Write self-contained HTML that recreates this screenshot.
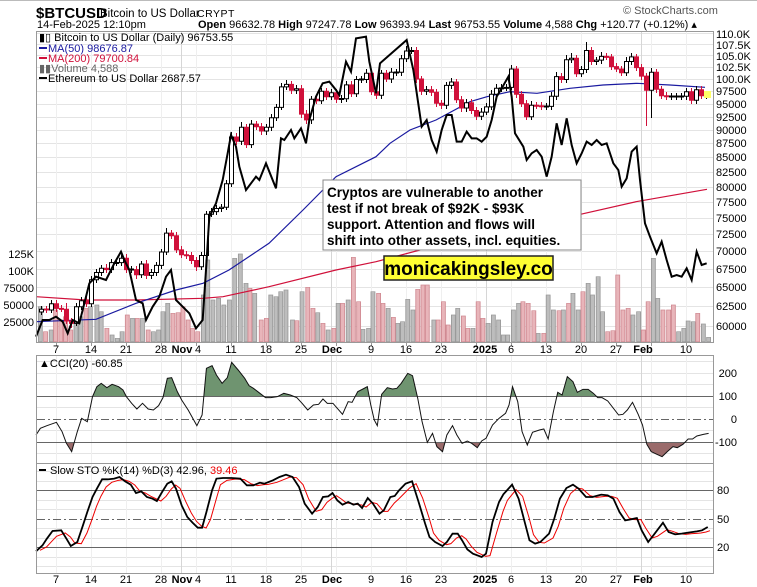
<!DOCTYPE html>
<html><head><meta charset="utf-8"><style>
html,body{margin:0;padding:0;background:#fff;}
svg{display:block;font-family:"Liberation Sans",sans-serif;}
</style></head><body>
<svg width="757" height="587" viewBox="0 0 757 587" xmlns="http://www.w3.org/2000/svg">
<defs>
<clipPath id="cu"><rect x="0" y="0" width="1600" height="125"/></clipPath>
<clipPath id="cd"><rect x="0" y="262" width="1600" height="80"/></clipPath>
</defs>
<rect width="757" height="587" fill="#fff"/>
<line x1="0" y1="0.5" x2="757" y2="0.5" stroke="#bbb"/>
<!-- header -->
<text x="36" y="18" font-size="15" font-weight="bold">$BTCUSD</text>
<text x="100" y="17" font-size="11.5">Bitcoin to US Dollar</text>
<text x="197" y="17" font-size="10.5" letter-spacing="0.5">CRYPT</text>
<text x="623" y="14" font-size="11" fill="#555">© StockCharts.com</text>
<text x="37" y="28" font-size="11">14-Feb-2025 12:10pm</text>
<text x="198" y="28" font-size="11"><tspan font-weight="bold">Open</tspan> 96632.78 <tspan font-weight="bold">High</tspan> 97247.78 <tspan font-weight="bold">Low</tspan> 96393.94 <tspan font-weight="bold">Last</tspan> 96753.55 <tspan font-weight="bold">Volume</tspan> 4,588 <tspan font-weight="bold">Chg</tspan> +120.77 (+0.12%) ▴</text>

<!-- horizontal price grid -->
<g stroke="#e4e4e4">
<path d="M37,33.5H713M37,44.5H713M37,55.5H713M37,67.5H713M37,79.5H713M37,91.5H713M37,104.5H713M37,117.5H713M37,130.5H713M37,143.5H713M37,157.5H713M37,172.5H713M37,187.5H713M37,202.5H713M37,218.5H713M37,234.5H713M37,251.5H713M37,269.5H713M37,287.5H713M37,306.5H713M37,326.5H713"/>
<path d="M37,361.5H713M37,373.5H713M37,384.5H713M37,407.5H713M37,430.5H713M37,453.5H713M37,471.5H713M37,481.5H713M37,500.5H713M37,509.5H713M37,528.5H713M37,538.5H713M37,557.5H713M37,566.5H713"/>
</g>
<!-- vertical grid -->
<g stroke="#efefef">
<path d="M56.5,32V342M91.5,32V342M126.5,32V342M161.5,32V342M196.5,32V342M231.5,32V342M266.5,32V342M301.5,32V342M336.5,32V342M371.5,32V342M406.5,32V342M441.5,32V342M476.5,32V342M511.5,32V342M546.5,32V342M581.5,32V342M616.5,32V342M651.5,32V342M686.5,32V342"/>
<path d="M56.5,356V573M91.5,356V573M126.5,356V573M161.5,356V573M196.5,356V573M231.5,356V573M266.5,356V573M301.5,356V573M336.5,356V573M371.5,356V573M406.5,356V573M441.5,356V573M476.5,356V573M511.5,356V573M546.5,356V573M581.5,356V573M616.5,356V573M651.5,356V573M686.5,356V573"/>
</g>
<g stroke="#d6d6d6">
<path d="M181.5,32V342M331.5,32V342M486.5,32V342M641.5,32V342M181.5,356V573M331.5,356V573M486.5,356V573M641.5,356V573"/>
</g>
<g stroke="#999">
<path d="M56.5,342V346M91.5,342V346M126.5,342V346M161.5,342V346M196.5,342V346M231.5,342V346M266.5,342V346M301.5,342V346M336.5,342V346M371.5,342V346M406.5,342V346M441.5,342V346M476.5,342V346M511.5,342V346M546.5,342V346M581.5,342V346M616.5,342V346M651.5,342V346M686.5,342V346"/>
</g>

<!-- volume -->
<g transform="translate(36,240) scale(0.43478,0.33333)" stroke-width="2">
<path fill="#bdbdbd" stroke="#9a9a9a" d="M5.5,200h9V305h-9ZM30.5,270h9V305h-9ZM87.5,250h9V305h-9ZM98.5,230h9V305h-9ZM120.5,200h9V305h-9ZM135.5,195h9V305h-9ZM145.5,215h9V305h-9ZM170.5,285h9V305h-9ZM182.5,295h9V305h-9ZM193.5,275h9V305h-9ZM217.5,235h9V305h-9ZM240.5,235h9V305h-9ZM265.5,275h9V305h-9ZM277.5,270h9V305h-9ZM287.5,215h9V305h-9ZM298.5,190h9V305h-9ZM380.5,165h9V305h-9ZM390.5,60h9V305h-9ZM402.5,180h9V305h-9ZM415.5,175h9V305h-9ZM427.5,195h9V305h-9ZM440.5,180h9V305h-9ZM452.5,55h9V305h-9ZM465.5,42h9V305h-9ZM478.5,130h9V305h-9ZM498.5,160h9V305h-9ZM535.5,165h9V305h-9ZM547.5,170h9V305h-9ZM558.5,155h9V305h-9ZM570.5,150h9V305h-9ZM585.5,240h9V305h-9ZM607.5,155h9V305h-9ZM643.5,218h9V305h-9ZM667.5,270h9V305h-9ZM690.5,190h9V305h-9ZM713.5,180h9V305h-9ZM747.5,268h9V305h-9ZM760.5,265h9V305h-9ZM770.5,155h9V305h-9ZM805.5,205h9V305h-9ZM827.5,250h9V305h-9ZM838.5,245h9V305h-9ZM850.5,178h9V305h-9ZM862.5,210h9V305h-9ZM910.5,240h9V305h-9ZM955.5,225h9V305h-9ZM965.5,205h9V305h-9ZM1000.5,265h9V305h-9ZM1035.5,250h9V305h-9ZM1047.5,225h9V305h-9ZM1059.5,240h9V305h-9ZM1070.5,285h9V305h-9ZM1080.5,285h9V305h-9ZM1093.5,210h9V305h-9ZM1105.5,190h9V305h-9ZM1150.5,280h9V305h-9ZM1173.5,165h9V305h-9ZM1185.5,210h9V305h-9ZM1208.5,210h9V305h-9ZM1230.5,160h9V305h-9ZM1242.5,210h9V305h-9ZM1265.5,130h9V305h-9ZM1275.5,165h9V305h-9ZM1288.5,110h9V305h-9ZM1298.5,215h9V305h-9ZM1368.5,225h9V305h-9ZM1381.5,215h9V305h-9ZM1415.5,55h9V305h-9ZM1425.5,175h9V305h-9ZM1473.5,275h9V305h-9ZM1485.5,265h9V305h-9ZM1495.5,243h9V305h-9ZM1507.5,245h9V305h-9ZM1530.5,252h9V305h-9ZM1542.5,292h9V305h-9Z"/>
<path fill="#e8b5ba" stroke="#d08a92" d="M17.5,275h9V305h-9ZM40.5,210h9V305h-9ZM52.5,240h9V305h-9ZM63.5,230h9V305h-9ZM75.5,270h9V305h-9ZM110.5,205h9V305h-9ZM158.5,265h9V305h-9ZM205.5,225h9V305h-9ZM228.5,235h9V305h-9ZM253.5,270h9V305h-9ZM310.5,220h9V305h-9ZM322.5,218h9V305h-9ZM333.5,200h9V305h-9ZM345.5,240h9V305h-9ZM355.5,265h9V305h-9ZM367.5,275h9V305h-9ZM487.5,145h9V305h-9ZM513.5,240h9V305h-9ZM525.5,235h9V305h-9ZM595.5,242h9V305h-9ZM620.5,142h9V305h-9ZM632.5,205h9V305h-9ZM655.5,250h9V305h-9ZM680.5,265h9V305h-9ZM700.5,190h9V305h-9ZM725.5,52h9V305h-9ZM737.5,185h9V305h-9ZM783.5,160h9V305h-9ZM793.5,190h9V305h-9ZM817.5,232h9V305h-9ZM873.5,148h9V305h-9ZM885.5,135h9V305h-9ZM895.5,135h9V305h-9ZM920.5,240h9V305h-9ZM932.5,185h9V305h-9ZM943.5,255h9V305h-9ZM978.5,228h9V305h-9ZM988.5,265h9V305h-9ZM1012.5,185h9V305h-9ZM1023.5,235h9V305h-9ZM1115.5,185h9V305h-9ZM1127.5,190h9V305h-9ZM1140.5,212h9V305h-9ZM1163.5,280h9V305h-9ZM1198.5,212h9V305h-9ZM1220.5,190h9V305h-9ZM1253.5,155h9V305h-9ZM1310.5,275h9V305h-9ZM1322.5,272h9V305h-9ZM1333.5,105h9V305h-9ZM1345.5,210h9V305h-9ZM1357.5,205h9V305h-9ZM1392.5,270h9V305h-9ZM1403.5,185h9V305h-9ZM1437.5,210h9V305h-9ZM1450.5,210h9V305h-9ZM1461.5,195h9V305h-9ZM1517.5,220h9V305h-9Z"/>
</g>

<!-- moving averages -->
<polyline fill="none" stroke="#d0103a" stroke-width="1.2" points="36,296.7 86,300 136,300 203,298.3 223,296.7 269,286.7 336,270 376,261.7 420,250 570,216.7 636,201.7 707,189.3"/>
<polyline fill="none" stroke="#1a1aa0" stroke-width="1.2" points="36,321.7 96,319.3 136,303.3 176,290 203,283.3 229,270 269,243.3 303,210 336,176.7 376,156.7 390,143.3 410,130 436,120 470,101.7 487,96.7 510,91.7 537,93.3 570,88.3 603,85 637,83.3 670,85 705,87.3"/>

<!-- candles: up (hollow) -->
<path fill="none" stroke="#000" d="M41.5,306V315M51.5,300V313M76.5,303V326M81.5,297V310M91.5,276V307M96.5,269V283M101.5,265V276M111.5,259V273M116.5,259V266M121.5,255V266M131.5,266V273M141.5,261V278M151.5,269V279M156.5,262V276M161.5,249V269M166.5,228V255M201.5,252V270M206.5,211V259M211.5,208V217M216.5,205V215M221.5,204V212M226.5,180V210M231.5,132V187M241.5,122V145M251.5,120V148M266.5,124V135M271.5,114V131M276.5,104V121M281.5,83V110M286.5,80V90M296.5,85V94M311.5,96V124M321.5,88V104M331.5,89V100M341.5,95V103M346.5,81V102M356.5,76V97M361.5,76V83M366.5,69V83M381.5,70V99M391.5,68V83M396.5,69V76M401.5,55V76M406.5,46V62M411.5,47V54M426.5,86V95M446.5,82V109M451.5,78V89M466.5,99V112M481.5,108V120M486.5,103V115M491.5,90V110M496.5,84V98M501.5,84V92M506.5,84V91M511.5,65V90M531.5,101V120M546.5,103V110M551.5,92V110M556.5,72V100M566.5,55V83M571.5,53V63M581.5,66V77M586.5,42V73M596.5,57V65M601.5,52V64M626.5,57V76M631.5,53V65M651.5,68V118M671.5,93V100M676.5,93V100M681.5,93V100M686.5,88V100M696.5,86V104M706.5,91V99"/>
<path fill="#fff" stroke="#000" d="M39.5,309.2h4V312h-4ZM49.5,303.7h4V310h-4ZM74.5,306.8h4V323.4h-4ZM79.5,300.7h4V306.8h-4ZM89.5,279.8h4V303.7h-4ZM94.5,272.5h4V279.8h-4ZM99.5,268.2h4V272.5h-4ZM109.5,262.6h4V269.6h-4ZM114.5,262.5h4V263.5h-4ZM119.5,258.3h4V262.6h-4ZM129.5,269h4V270h-4ZM139.5,264h4V274.7h-4ZM149.5,272.5h4V275.4h-4ZM154.5,265.4h4V272.5h-4ZM159.5,252h4V265.4h-4ZM164.5,233.1h4V252h-4ZM199.5,255.5h4V266.8h-4ZM204.5,214.2h4V255.5h-4ZM209.5,211.6h4V214.2h-4ZM214.5,208.5h4V211.6h-4ZM219.5,207.2h4V208.5h-4ZM224.5,183.8h4V207.2h-4ZM229.5,137h4V183.8h-4ZM239.5,127.3h4V141.3h-4ZM249.5,124.1h4V144.6h-4ZM264.5,127.3h4V131h-4ZM269.5,117.8h4V127.3h-4ZM274.5,107.4h4V117.8h-4ZM279.5,86.9h4V107.4h-4ZM284.5,84.4h4V86.9h-4ZM294.5,88.8h4V90.3h-4ZM309.5,99.3h4V119.9h-4ZM319.5,91.3h4V100.8h-4ZM329.5,92.8h4V96.8h-4ZM339.5,98.5h4V99.5h-4ZM344.5,84.9h4V98.8h-4ZM354.5,79.5h4V93.8h-4ZM359.5,79h4V80h-4ZM364.5,73.3h4V79.5h-4ZM379.5,73.3h4V95.3h-4ZM389.5,72.3h4V79h-4ZM394.5,72h4V73h-4ZM399.5,58.7h4V72.3h-4ZM404.5,51h4V58.7h-4ZM409.5,50.5h4V51.5h-4ZM424.5,89.8h4V91.3h-4ZM444.5,85.4h4V105.3h-4ZM449.5,82h4V85.4h-4ZM464.5,102.8h4V108h-4ZM479.5,112.1h4V116.2h-4ZM484.5,106.9h4V112.1h-4ZM489.5,94.3h4V106.9h-4ZM494.5,88.3h4V94.3h-4ZM499.5,87.9h4V88.9h-4ZM504.5,87.4h4V88.4h-4ZM509.5,69h4V87.4h-4ZM529.5,105.3h4V116.7h-4ZM544.5,106h4V107h-4ZM549.5,96.3h4V106.4h-4ZM554.5,76.6h4V96.3h-4ZM564.5,59.7h4V79.5h-4ZM569.5,58.3h4V59.7h-4ZM579.5,69.5h4V73.8h-4ZM584.5,50.5h4V69.5h-4ZM594.5,60.1h4V61.5h-4ZM599.5,56.4h4V60.1h-4ZM624.5,61.5h4V72.8h-4ZM629.5,56.9h4V61.5h-4ZM649.5,72.3h4V90.3h-4ZM669.5,96h4V97h-4ZM674.5,96h4V97h-4ZM679.5,96h4V97h-4ZM684.5,91.8h4V96.3h-4ZM694.5,89.8h4V100.3h-4ZM704.5,95h4V96h-4Z"/>
<!-- candles: down (red) -->
<path fill="none" stroke="#d0103a" d="M46.5,306V313M56.5,300V312M61.5,305V312M66.5,303V324M71.5,318V328M86.5,297V307M106.5,264V273M126.5,254V273M136.5,266V279M146.5,260V279M171.5,230V239M176.5,232V253M181.5,246V258M186.5,251V259M191.5,252V264M196.5,257V271M236.5,133V145M246.5,124V148M256.5,121V130M261.5,123V135M291.5,81V94M301.5,85V118M306.5,110V124M316.5,96V104M326.5,88V100M336.5,89V103M351.5,81V97M371.5,70V95M376.5,88V99M386.5,70V82M416.5,47V83M421.5,76V95M431.5,86V96M436.5,89V107M441.5,100V109M456.5,79V103M461.5,96V112M471.5,99V114M476.5,107V120M516.5,66V98M521.5,91V107M526.5,100V120M536.5,102V109M541.5,102V110M561.5,73V83M576.5,55V77M591.5,47V65M606.5,53V60M611.5,54V70M616.5,63V72M621.5,66V76M636.5,54V71M641.5,64V80M646.5,73V126M656.5,69V93M661.5,86V99M666.5,92V100M691.5,88V104M701.5,86V99"/>
<path fill="#d0103a" stroke="#d0103a" d="M44.5,309h4V310h-4ZM54.5,303.7h4V308.4h-4ZM59.5,308.4h4V309.4h-4ZM64.5,309.2h4V321h-4ZM69.5,321h4V323.4h-4ZM84.5,300.7h4V303.7h-4ZM104.5,268.2h4V269.6h-4ZM124.5,258.3h4V269.6h-4ZM134.5,269.6h4V274.7h-4ZM144.5,264h4V275.4h-4ZM169.5,233.1h4V235.8h-4ZM174.5,235.8h4V249.9h-4ZM179.5,249.9h4V254.8h-4ZM184.5,254.8h4V255.8h-4ZM189.5,255.5h4V260.5h-4ZM194.5,260.5h4V266.8h-4ZM234.5,137h4V141.3h-4ZM244.5,127.3h4V144.6h-4ZM254.5,124.1h4V126.7h-4ZM259.5,126.7h4V131h-4ZM289.5,84.4h4V90.3h-4ZM299.5,88.8h4V114.1h-4ZM304.5,114.1h4V119.9h-4ZM314.5,99.3h4V100.8h-4ZM324.5,91.3h4V96.8h-4ZM334.5,92.8h4V99.3h-4ZM349.5,84.9h4V93.8h-4ZM369.5,73.3h4V91.8h-4ZM374.5,91.8h4V95.3h-4ZM384.5,73.3h4V79h-4ZM414.5,50.5h4V79h-4ZM419.5,79h4V91.3h-4ZM429.5,89.8h4V92.3h-4ZM434.5,92.3h4V103.3h-4ZM439.5,103.3h4V105.3h-4ZM454.5,82h4V99.8h-4ZM459.5,99.8h4V108h-4ZM469.5,102.8h4V110.5h-4ZM474.5,110.5h4V116.2h-4ZM514.5,69h4V94.3h-4ZM519.5,94.3h4V103.8h-4ZM524.5,103.8h4V116.7h-4ZM534.5,105.3h4V106.3h-4ZM539.5,105.8h4V106.8h-4ZM559.5,76.6h4V79.5h-4ZM574.5,58.3h4V73.8h-4ZM589.5,50.5h4V61.5h-4ZM604.5,56.4h4V57.4h-4ZM609.5,56.9h4V66.6h-4ZM614.5,66.6h4V69h-4ZM619.5,69h4V72.8h-4ZM634.5,56.9h4V67.6h-4ZM639.5,67.6h4V76.1h-4ZM644.5,76.1h4V90.3h-4ZM654.5,72.3h4V89.3h-4ZM659.5,89.3h4V95.8h-4ZM664.5,95.8h4V96.8h-4ZM689.5,91.8h4V100.3h-4ZM699.5,89.8h4V95.8h-4Z"/>
<rect x="704" y="91" width="7" height="7" fill="#ffff66"/>

<!-- ETH line -->
<g transform="translate(36,30) scale(0.33333)">
<polyline fill="none" stroke="#000" stroke-width="2" vector-effect="non-scaling-stroke" points="0,920 20,870 40,870 60,860 80,875 95,910 110,870 130,880 160,760 180,740 210,750 235,700 255,665 265,690 280,720 300,810 320,820 330,870 350,830 370,800 390,740 405,720 420,810 445,835 460,850 480,895 500,870 510,720 520,560 540,520 560,450 575,370 585,315 600,350 610,410 630,480 660,440 670,450 690,400 720,475 735,325 745,330 765,300 775,325 795,295 810,340 820,270 840,200 860,160 880,155 900,180 910,195 930,95 945,125 960,25 990,20 1000,95 1020,190"/>
</g>
<g transform="translate(370,30) scale(0.33333)">
<polyline fill="none" stroke="#000" stroke-width="2" vector-effect="non-scaling-stroke" points="18,190 30,100 110,30 130,120 155,290 170,270 185,330 200,365 215,300 230,255 245,255 260,335 275,335 290,305 305,325 320,325 335,335 350,320 365,270 380,200 395,175 415,140 425,200 435,310 460,350 470,390 485,370 500,360 515,380 530,440 545,380 560,280 575,345 590,265 605,345 620,400 635,370 650,335 665,345 680,330 695,345 710,340 730,400 745,420 755,470 770,445 785,365 800,350 810,450 825,580 840,620 860,670 875,635 890,690 905,740 920,735 935,740 950,715 965,750 980,665 995,705 1010,700"/>
</g>

<!-- legend -->
<g font-size="11">
<text x="39" y="41">▮▯ Bitcoin to US Dollar (Daily) 96753.55</text>
<line x1="39" y1="48" x2="47" y2="48" stroke="#1a1aa0" stroke-width="2"/><text x="48" y="52" fill="#1a1aa0">MA(50) 98676.87</text>
<line x1="39" y1="58" x2="47" y2="58" stroke="#d0103a" stroke-width="2"/><text x="48" y="62" fill="#d0103a">MA(200) 79700.84</text>
<text x="39" y="72" fill="#666">▮▮Volume 4,588</text>
<line x1="39" y1="78" x2="47" y2="78" stroke="#000" stroke-width="2"/><text x="48" y="82">Ethereum to US Dollar 2687.57</text>
</g>
<!-- annotation -->
<rect x="323" y="180" width="258" height="70" fill="#fff" stroke="#888"/>
<g font-size="13.5" font-weight="bold">
<text x="327" y="197">Cryptos are vulnerable to another</text>
<text x="327" y="213">test if not break of $92K - $93K</text>
<text x="327" y="229">support. Attention and flows will</text>
<text x="327" y="245">shift into other assets, incl. equities.</text>
</g>
<rect x="384" y="256" width="169" height="24" fill="#ffff33" stroke="#222" stroke-width="1.5"/>
<text x="468.5" y="275" font-size="19" font-weight="bold" text-anchor="middle">monicakingsley.co</text>
<!-- price labels -->
<g font-size="11">
<text x="716" y="38">110.0K</text><text x="716" y="49">107.5K</text><text x="716" y="60">105.0K</text><text x="716" y="71">102.5K</text><text x="716" y="83">100.0K</text>
<text x="716" y="95">97500</text><text x="716" y="108">95000</text><text x="716" y="121">92500</text><text x="716" y="134">90000</text><text x="716" y="147">87500</text><text x="716" y="161">85000</text><text x="716" y="176">82500</text><text x="716" y="191">80000</text><text x="716" y="206">77500</text><text x="716" y="222">75000</text><text x="716" y="238">72500</text><text x="716" y="255">70000</text><text x="716" y="273">67500</text><text x="716" y="291">65000</text><text x="716" y="310">62500</text><text x="716" y="330">60000</text>
</g>
<g font-size="11" text-anchor="end">
<text x="34" y="258">125K</text><text x="34" y="275">100K</text><text x="34" y="292">75000</text><text x="34" y="309">50000</text><text x="34" y="326">25000</text>
</g>
<!-- date labels -->
<g font-size="11" text-anchor="middle">
<text x="56" y="353">7</text><text x="91" y="353">14</text><text x="126" y="353">21</text><text x="161" y="353">28</text><text x="182" y="353" font-weight="bold">Nov</text><text x="198" y="353">4</text><text x="231" y="353">11</text><text x="266" y="353">18</text><text x="301" y="353">25</text><text x="332" y="353" font-weight="bold">Dec</text><text x="371" y="353">9</text><text x="406" y="353">16</text><text x="441" y="353">23</text><text x="485" y="353" font-weight="bold">2025</text><text x="511" y="353">6</text><text x="546" y="353">13</text><text x="581" y="353">20</text><text x="616" y="353">27</text><text x="643" y="353" font-weight="bold">Feb</text><text x="686" y="353">10</text>
<text x="56" y="583">7</text><text x="91" y="583">14</text><text x="126" y="583">21</text><text x="161" y="583">28</text><text x="182" y="583" font-weight="bold">Nov</text><text x="198" y="583">4</text><text x="231" y="583">11</text><text x="266" y="583">18</text><text x="301" y="583">25</text><text x="332" y="583" font-weight="bold">Dec</text><text x="371" y="583">9</text><text x="406" y="583">16</text><text x="441" y="583">23</text><text x="485" y="583" font-weight="bold">2025</text><text x="511" y="583">6</text><text x="546" y="583">13</text><text x="581" y="583">20</text><text x="616" y="583">27</text><text x="643" y="583" font-weight="bold">Feb</text><text x="686" y="583">10</text>
</g>

<!-- CCI -->
<g transform="translate(36,355) scale(0.43478,0.33333)">
<polygon clip-path="url(#cu)" fill="#6f9470" points="0,125 0,240 10,220 25,212 47,202 60,230 70,265 82,290 95,230 105,190 118,200 130,125 140,95 150,85 163,98 175,88 190,95 200,105 208,125 220,145 232,162 245,145 258,162 270,165 282,152 292,128 302,70 312,68 325,110 335,135 350,165 370,212 382,180 392,40 405,32 415,60 428,85 440,68 450,22 465,45 480,70 490,92 500,100 515,115 528,128 540,128 555,125 570,115 585,120 600,128 612,145 625,165 638,150 650,148 660,132 670,145 683,145 693,160 705,178 718,140 727,142 740,110 752,102 762,95 770,150 778,195 785,212 795,118 808,98 820,102 830,100 840,85 855,55 866,62 878,130 888,200 900,262 912,235 922,275 935,290 945,240 958,212 968,240 980,265 992,258 1002,265 1015,278 1025,258 1035,250 1050,210 1065,190 1080,175 1088,150 1096,95 1108,140 1118,230 1130,270 1142,232 1158,225 1168,222 1178,252 1190,170 1200,112 1210,120 1222,65 1235,80 1245,112 1258,103 1270,103 1282,115 1292,128 1302,128 1315,138 1340,180 1350,178 1360,165 1372,142 1385,178 1395,210 1405,268 1415,290 1428,298 1440,305 1452,290 1465,275 1475,278 1488,268 1500,252 1510,252 1520,243 1535,238 1547,235 1547,125"/>
<polygon clip-path="url(#cd)" fill="#9a6b6b" points="0,262 0,240 10,220 25,212 47,202 60,230 70,265 82,290 95,230 105,190 118,200 130,125 140,95 150,85 163,98 175,88 190,95 200,105 208,125 220,145 232,162 245,145 258,162 270,165 282,152 292,128 302,70 312,68 325,110 335,135 350,165 370,212 382,180 392,40 405,32 415,60 428,85 440,68 450,22 465,45 480,70 490,92 500,100 515,115 528,128 540,128 555,125 570,115 585,120 600,128 612,145 625,165 638,150 650,148 660,132 670,145 683,145 693,160 705,178 718,140 727,142 740,110 752,102 762,95 770,150 778,195 785,212 795,118 808,98 820,102 830,100 840,85 855,55 866,62 878,130 888,200 900,262 912,235 922,275 935,290 945,240 958,212 968,240 980,265 992,258 1002,265 1015,278 1025,258 1035,250 1050,210 1065,190 1080,175 1088,150 1096,95 1108,140 1118,230 1130,270 1142,232 1158,225 1168,222 1178,252 1190,170 1200,112 1210,120 1222,65 1235,80 1245,112 1258,103 1270,103 1282,115 1292,128 1302,128 1315,138 1340,180 1350,178 1360,165 1372,142 1385,178 1395,210 1405,268 1415,290 1428,298 1440,305 1452,290 1465,275 1475,278 1488,268 1500,252 1510,252 1520,243 1535,238 1547,235 1547,262"/>
</g>
<line x1="37" y1="396.5" x2="713" y2="396.5" stroke="#666"/>
<line x1="37" y1="419.5" x2="713" y2="419.5" stroke="#666" stroke-dasharray="8,3,2,3"/>
<line x1="37" y1="442.5" x2="713" y2="442.5" stroke="#666"/>
<g transform="translate(36,355) scale(0.43478,0.33333)">
<polyline fill="none" stroke="#111" stroke-width="1" vector-effect="non-scaling-stroke" points="0,240 10,220 25,212 47,202 60,230 70,265 82,290 95,230 105,190 118,200 130,125 140,95 150,85 163,98 175,88 190,95 200,105 208,125 220,145 232,162 245,145 258,162 270,165 282,152 292,128 302,70 312,68 325,110 335,135 350,165 370,212 382,180 392,40 405,32 415,60 428,85 440,68 450,22 465,45 480,70 490,92 500,100 515,115 528,128 540,128 555,125 570,115 585,120 600,128 612,145 625,165 638,150 650,148 660,132 670,145 683,145 693,160 705,178 718,140 727,142 740,110 752,102 762,95 770,150 778,195 785,212 795,118 808,98 820,102 830,100 840,85 855,55 866,62 878,130 888,200 900,262 912,235 922,275 935,290 945,240 958,212 968,240 980,265 992,258 1002,265 1015,278 1025,258 1035,250 1050,210 1065,190 1080,175 1088,150 1096,95 1108,140 1118,230 1130,270 1142,232 1158,225 1168,222 1178,252 1190,170 1200,112 1210,120 1222,65 1235,80 1245,112 1258,103 1270,103 1282,115 1292,128 1302,128 1315,138 1340,180 1350,178 1360,165 1372,142 1385,178 1395,210 1405,268 1415,290 1428,298 1440,305 1452,290 1465,275 1475,278 1488,268 1500,252 1510,252 1520,243 1535,238 1547,235"/>
</g>

<!-- STO -->
<line x1="37" y1="490.5" x2="713" y2="490.5" stroke="#666"/>
<line x1="37" y1="519.5" x2="713" y2="519.5" stroke="#666" stroke-dasharray="8,3,2,3"/>
<line x1="37" y1="547.5" x2="713" y2="547.5" stroke="#666"/>
<g transform="translate(40,463) scale(0.43478,0.33333)">
<polyline fill="none" stroke="#e00" stroke-width="1" vector-effect="non-scaling-stroke" points="0,262 15,252 25,238 38,220 58,210 70,222 80,240 95,242 108,210 118,175 130,130 140,100 152,72 165,58 180,52 192,50 205,55 218,66 230,85 242,90 255,100 268,108 278,114 290,100 302,78 312,66 322,76 335,115 348,150 360,175 372,190 382,195 392,170 405,110 415,65 430,52 450,48 470,50 485,62 500,68 515,65 525,64 545,58 560,50 575,42 590,44 605,65 618,108 635,145 648,140 660,118 672,106 682,98 693,108 705,120 718,122 730,125 740,126 750,132 763,118 775,122 790,145 800,145 815,120 825,108 835,95 850,75 865,62 880,105 895,165 905,210 918,232 935,245 945,242 958,225 970,218 980,228 992,250 1005,268 1025,280 1035,278 1050,210 1065,145 1075,112 1095,80 1110,100 1125,165 1135,215 1148,238 1160,240 1180,225 1192,190 1205,135 1220,92 1235,75 1248,78 1265,98 1280,103 1300,100 1315,100 1328,106 1342,138 1355,165 1368,170 1382,170 1393,195 1408,225 1420,220 1442,200 1455,205 1470,212 1485,214 1500,212 1510,211 1520,210 1532,207 1541,203"/>
</g>
<g transform="translate(36,462) scale(0.43478,0.33333)">
<polyline fill="none" stroke="#000" stroke-width="1.8" vector-effect="non-scaling-stroke" points="0,268 15,250 25,230 38,207 58,205 70,230 80,252 95,240 108,190 118,150 130,105 140,80 152,52 165,52 180,50 192,45 205,58 218,68 230,93 242,88 255,105 268,110 278,117 290,90 302,65 312,58 322,80 335,130 348,165 360,182 372,197 382,197 392,150 405,85 415,50 430,48 450,48 470,50 485,70 500,70 515,62 525,65 545,55 560,45 575,38 590,45 605,75 618,125 635,155 648,135 660,105 672,103 682,93 693,115 705,128 718,120 730,128 740,125 750,138 763,108 775,125 790,155 800,145 815,105 825,102 835,85 850,65 865,58 880,120 895,185 905,225 918,240 935,252 945,240 958,215 970,215 980,235 992,262 1005,275 1025,285 1035,275 1050,180 1065,120 1075,97 1095,68 1110,110 1125,185 1135,235 1148,245 1160,240 1180,215 1192,170 1205,110 1220,78 1235,68 1248,80 1265,105 1280,105 1300,98 1315,100 1328,110 1342,150 1355,175 1368,172 1382,168 1393,205 1408,240 1420,220 1442,182 1455,210 1470,217 1485,215 1500,212 1510,210 1520,208 1532,205 1545,195"/>
</g>

<g font-size="11">
<text x="737" y="377" text-anchor="end">200</text><text x="737" y="400" text-anchor="end">100</text><text x="737" y="423" text-anchor="end">0</text><text x="737" y="446" text-anchor="end">-100</text>
<text x="39" y="367">▲CCI(20) -60.85</text>
<text x="717" y="494">80</text><text x="717" y="523">50</text><text x="717" y="551">20</text>
<line x1="39" y1="470" x2="46" y2="470" stroke="#000" stroke-width="2"/>
<text x="50" y="474">Slow STO %K(14) %D(3) 42.96, <tspan fill="#e00">39.46</tspan></text>
</g>
<!-- frames -->
<g fill="none" stroke="#999">
<rect x="36.5" y="31.5" width="677" height="311"/>
<rect x="36.5" y="355.5" width="677" height="108"/>
<rect x="36.5" y="463.5" width="677" height="110"/>
</g>
</svg>
</body></html>
